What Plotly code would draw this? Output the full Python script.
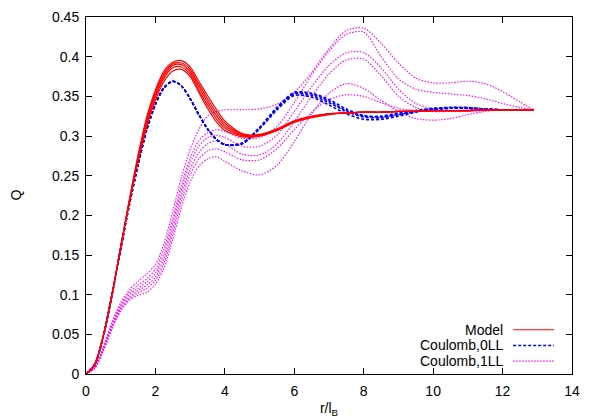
import plotly.graph_objects as go

# radial grid r/l_B shared by all curves
r = [0, 0.25, 0.5, 0.75, 1, 1.25, 1.5, 1.75, 2, 2.25, 2.5, 2.75, 3, 3.25, 3.5, 3.75, 4,
     4.5, 5, 5.5, 6, 6.5, 7, 7.5, 8, 8.5, 9, 9.5, 10, 10.5, 11, 11.5, 12, 12.5, 12.9]

# Model (red)
model_1 = [0, 0.012, 0.048, 0.1, 0.159, 0.216, 0.268, 0.312, 0.345, 0.369, 0.382, 0.384, 0.375, 0.355, 0.335, 0.318, 0.307,
           0.299, 0.3, 0.307, 0.317, 0.323, 0.327, 0.329, 0.33, 0.33, 0.331, 0.331, 0.332, 0.332, 0.332, 0.333, 0.333, 0.333, 0.333]
model_2 = [0, 0.012, 0.048, 0.1, 0.16, 0.217, 0.27, 0.315, 0.349, 0.373, 0.386, 0.387, 0.378, 0.358, 0.339, 0.322, 0.31,
           0.3, 0.3, 0.307, 0.318, 0.324, 0.328, 0.329, 0.33, 0.33, 0.331, 0.331, 0.332, 0.332, 0.332, 0.333, 0.333, 0.333, 0.333]
model_3 = [0, 0.012, 0.048, 0.1, 0.16, 0.218, 0.272, 0.318, 0.352, 0.376, 0.389, 0.39, 0.381, 0.362, 0.343, 0.326, 0.313,
           0.301, 0.301, 0.308, 0.318, 0.324, 0.328, 0.329, 0.33, 0.33, 0.331, 0.331, 0.332, 0.332, 0.332, 0.333, 0.333, 0.333, 0.333]
model_4 = [0, 0.012, 0.048, 0.1, 0.161, 0.219, 0.274, 0.321, 0.355, 0.379, 0.391, 0.392, 0.384, 0.365, 0.347, 0.33, 0.316,
           0.302, 0.301, 0.308, 0.318, 0.324, 0.328, 0.329, 0.33, 0.33, 0.331, 0.331, 0.332, 0.332, 0.332, 0.333, 0.333, 0.333, 0.333]
model_5 = [0, 0.012, 0.048, 0.1, 0.161, 0.22, 0.276, 0.324, 0.358, 0.382, 0.393, 0.395, 0.387, 0.369, 0.351, 0.334, 0.319,
           0.303, 0.302, 0.309, 0.319, 0.325, 0.328, 0.329, 0.33, 0.33, 0.331, 0.331, 0.332, 0.332, 0.332, 0.333, 0.333, 0.333, 0.333]

# Coulomb, 0LL (blue)
c0_1 = [0, 0.012, 0.048, 0.1, 0.158, 0.214, 0.264, 0.308, 0.34, 0.361, 0.369, 0.363, 0.347, 0.327, 0.309, 0.296, 0.289,
        0.291, 0.31, 0.334, 0.353, 0.351, 0.342, 0.331, 0.324, 0.323, 0.327, 0.331, 0.334, 0.335, 0.335, 0.334, 0.333, 0.333, 0.333]
c0_2 = [0, 0.012, 0.048, 0.1, 0.158, 0.214, 0.264, 0.308, 0.34, 0.361, 0.369, 0.363, 0.347, 0.327, 0.309, 0.296, 0.289,
        0.291, 0.31, 0.335, 0.354, 0.353, 0.344, 0.332, 0.325, 0.325, 0.329, 0.332, 0.335, 0.336, 0.335, 0.334, 0.333, 0.333, 0.333]
c0_3 = [0, 0.012, 0.048, 0.1, 0.158, 0.214, 0.264, 0.308, 0.34, 0.361, 0.369, 0.363, 0.347, 0.327, 0.309, 0.296, 0.289,
        0.29, 0.309, 0.333, 0.351, 0.349, 0.339, 0.328, 0.321, 0.321, 0.325, 0.33, 0.333, 0.335, 0.335, 0.334, 0.333, 0.333, 0.333]
c0_4 = [0, 0.012, 0.048, 0.1, 0.158, 0.214, 0.264, 0.308, 0.34, 0.361, 0.369, 0.363, 0.347, 0.327, 0.309, 0.296, 0.289,
        0.291, 0.311, 0.336, 0.355, 0.354, 0.346, 0.334, 0.326, 0.324, 0.327, 0.331, 0.334, 0.336, 0.336, 0.334, 0.333, 0.333, 0.333]

# Coulomb, 1LL (magenta)
c1_1 = [0, 0.009, 0.035, 0.066, 0.09, 0.106, 0.117, 0.126, 0.138, 0.165, 0.205, 0.248, 0.283, 0.308, 0.325, 0.331, 0.333,
        0.333, 0.334, 0.34, 0.355, 0.38, 0.41, 0.433, 0.436, 0.417, 0.392, 0.373, 0.367, 0.367, 0.369, 0.366, 0.356, 0.343, 0.333]
c1_2 = [0, 0.008, 0.033, 0.063, 0.087, 0.103, 0.112, 0.12, 0.132, 0.158, 0.196, 0.238, 0.272, 0.294, 0.304, 0.308, 0.306,
        0.297, 0.298, 0.312, 0.342, 0.377, 0.407, 0.428, 0.431, 0.4, 0.372, 0.359, 0.355, 0.353, 0.351, 0.347, 0.341, 0.336, 0.333]
c1_3 = [0, 0.008, 0.032, 0.061, 0.085, 0.1, 0.108, 0.116, 0.127, 0.152, 0.19, 0.232, 0.266, 0.287, 0.298, 0.301, 0.298,
        0.287, 0.287, 0.301, 0.331, 0.362, 0.389, 0.405, 0.405, 0.386, 0.359, 0.341, 0.334, 0.332, 0.331, 0.332, 0.333, 0.333, 0.333]
c1_4 = [0, 0.008, 0.031, 0.06, 0.083, 0.097, 0.105, 0.112, 0.122, 0.146, 0.183, 0.225, 0.258, 0.279, 0.29, 0.294, 0.29,
        0.277, 0.276, 0.29, 0.318, 0.35, 0.378, 0.396, 0.397, 0.376, 0.35, 0.336, 0.331, 0.331, 0.332, 0.333, 0.333, 0.333, 0.333]
c1_5 = [0, 0.007, 0.03, 0.058, 0.081, 0.095, 0.102, 0.108, 0.118, 0.14, 0.177, 0.218, 0.251, 0.271, 0.281, 0.284, 0.28,
        0.27, 0.27, 0.284, 0.308, 0.33, 0.346, 0.352, 0.35, 0.342, 0.335, 0.332, 0.331, 0.332, 0.333, 0.333, 0.333, 0.333, 0.333]
c1_6 = [0, 0.007, 0.029, 0.057, 0.079, 0.093, 0.099, 0.103, 0.113, 0.134, 0.17, 0.21, 0.242, 0.262, 0.271, 0.274, 0.268,
        0.256, 0.251, 0.263, 0.293, 0.328, 0.354, 0.366, 0.36, 0.345, 0.331, 0.322, 0.32, 0.322, 0.327, 0.331, 0.333, 0.333, 0.333]

x_ticks = [0, 2, 4, 6, 8, 10, 12, 14]
y_ticks = [0, 0.05, 0.1, 0.15, 0.2, 0.25, 0.3, 0.35, 0.4, 0.45]
y_labels = ["0", "0.05", "0.1", "0.15", "0.2", "0.25", "0.3", "0.35", "0.4", "0.45"]

groups = [
    ("Model", "#ff0000", "solid", 1.2, [model_1, model_2, model_3, model_4, model_5]),
    ("Coulomb,0LL", "#0000ff", "3px,2px", 1.6, [c0_1, c0_2, c0_3, c0_4]),
    ("Coulomb,1LL", "#ff00ff", "1.5px,1.5px", 1.1, [c1_1, c1_2, c1_3, c1_4, c1_5, c1_6]),
]

fig = go.Figure()
# magenta first, then blue, red on top
for name, color, dash, width, series in [groups[2], groups[1], groups[0]]:
    for s in series:
        fig.add_trace(go.Scatter(x=r, y=s, mode="lines", name=name, showlegend=False,
                                 line=dict(color=color, dash=dash, width=width, shape="spline", smoothing=0.8)))

font = dict(family="Liberation Sans, Arial, sans-serif", size=14, color="black")

# gnuplot-style key: text on the left, line sample on the right
row_y = [0.124, 0.080, 0.036]
for (name, color, dash, width, _), yy in zip(groups, row_y):
    fig.add_annotation(x=0.862, y=yy, xref="paper", yref="paper", text=name, showarrow=False,
                       xanchor="right", yanchor="middle", font=font)
    fig.add_shape(type="line", xref="paper", yref="paper", x0=0.879, x1=0.963, y0=yy, y1=yy,
                  line=dict(color=color, dash=dash, width=width))

# y title placed like gnuplot, far left
fig.add_annotation(x=0, y=0.5, xref="paper", yref="paper", text="Q", showarrow=False,
                   textangle=-90, xanchor="center", yanchor="middle", xshift=-71, font=font)

axis_common = dict(showline=True, linecolor="black", linewidth=1, mirror="ticks",
                   ticks="inside", ticklen=6, tickcolor="black", showgrid=False, zeroline=False,
                   tickfont=font, automargin=False)

fig.update_xaxes(range=[0, 14], tickvals=x_ticks, ticklabelstandoff=4,
                 title=dict(text="r/l<sub>B</sub>", font=font, standoff=5), **axis_common)
fig.update_yaxes(range=[0, 0.45], tickvals=y_ticks, ticktext=y_labels, ticklabelstandoff=3, **axis_common)

# page body has an 8px margin, so the figure is 8px smaller than the window
fig.update_layout(width=590, height=411, margin=dict(l=78, r=26, t=9, b=45),
                  plot_bgcolor="white", paper_bgcolor="white", font=font)

fig.write_html("out.html")
